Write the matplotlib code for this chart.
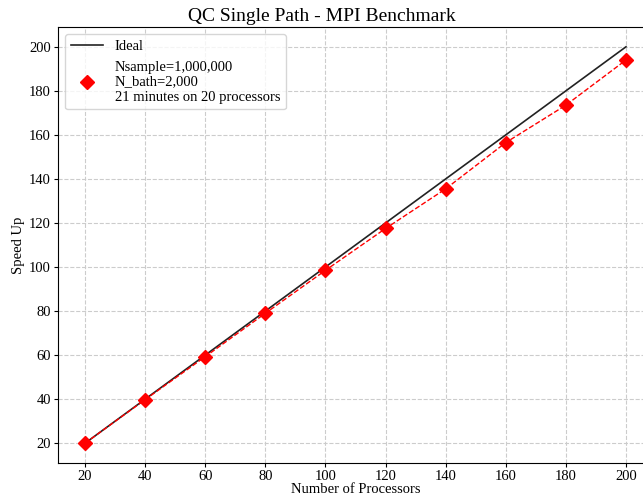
import matplotlib
matplotlib.use("Agg")
import matplotlib.pyplot as plt

processors = [20, 40, 60, 80, 100, 120, 140, 160, 180, 200]
ideal = [20, 40, 60, 80, 100, 120, 140, 160, 180, 200]
speedup = [20.0, 39.8, 59.3, 79.0, 98.5, 117.5, 135.5, 156.5, 173.5, 194.0]

run_label = "Nsample=1,000,000\nN_bath=2,000\n21 minutes on 20 processors"

plt.rcParams["font.family"] = ["Liberation Serif", "DejaVu Serif"]

fig = plt.figure(figsize=(6.43, 4.95), dpi=100)
ax = fig.add_axes([0.0902, 0.0646, 0.9254, 0.8809])

ax.plot(processors, ideal, color="#222222", linewidth=1.2, label="Ideal")
ax.plot(processors, speedup, color="red", linestyle="--", linewidth=1.0)
ax.plot(processors, speedup, color="red", linestyle="none", marker="D",
        markersize=7, label=run_label)

fig.suptitle("QC Single Path - MPI Benchmark", fontsize=14, y=0.983)
ax.set_xlabel("Number of Processors", fontsize=10.5, labelpad=0)
ax.set_ylabel("Speed Up", fontsize=10.5, labelpad=3)
ax.set_xticks(processors)
ax.set_yticks(range(20, 201, 20))
ax.tick_params(labelsize=10.5, length=3, pad=2)
ax.grid(True, linestyle="--", color="#cccccc", linewidth=0.8)
ax.legend(loc="upper left", fontsize=10.5, handlelength=2.2)

fig.savefig("out.png", dpi=100)
